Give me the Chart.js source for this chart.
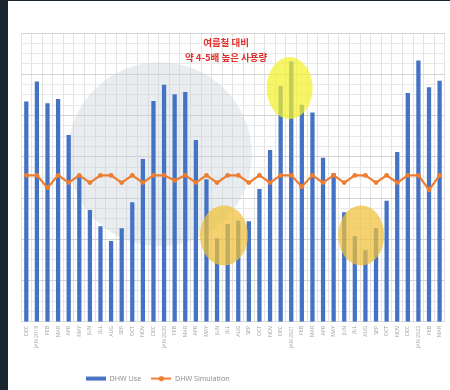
<!DOCTYPE html>
<html><head><meta charset="utf-8">
<script src="https://cdn.jsdelivr.net/npm/chart.js@4/dist/chart.umd.min.js"></script>
<style>
html,body{margin:0;padding:0;background:#1b2730;width:450px;height:390px;overflow:hidden;}
#wrap{position:absolute;left:8px;top:1px;width:442px;height:389px;background:#ffffff;}
canvas{display:block;}
</style></head><body>
<div id="wrap"><canvas id="c" width="442" height="389"></canvas></div>
<script>
const categories = ['DEC','JAN 2019','FEB','MAR','APR','MAY','JUN','JUL','AUG','SEP','OCT','NOV',
  'DEC','JAN 2020','FEB','MAR','APR','MAY','JUN','JUL','AUG','SEP','OCT','NOV',
  'DEC','JAN 2021','FEB','MAR','APR','MAY','JUN','JUL','AUG','SEP','OCT','NOV',
  'DEC','JAN 2022','FEB','MAR'];
const dhwUse = [106.6,116.3,105.8,107.9,90.4,71.0,54.0,46.2,39.0,45.2,57.8,78.8,
  106.9,114.7,110.2,111.2,88.0,69.0,40.3,47.2,48.8,48.6,64.2,83.1,
  114.2,126.0,105.0,101.3,79.4,71.9,53.0,41.3,34.5,45.2,58.5,82.2,
  110.7,126.5,113.6,116.7];
const dhwSimulation = [71,71,65,71,67.5,71,67.5,71,71,67.5,71,67.5,
  71,71,68.5,71,67.5,71,67.5,71,71,67.5,71,67.5,
  71,71,65.5,71,67.5,71,67.5,71,71,67.5,71,67.5,
  71,71,64,71];
const seriesNames = ['DHW Use','DHW Simulation'];
const noteLines = ['여름철 대비','약 4-5배 높은 사용량'];

const BLUE = '#4472c4', ORANGE = '#ed7d31';

// highlight ellipses anchored on category index / value
const highlights = [
  {i: 24.85, v: 113.3, rx: 23, ry: 31, color: 'rgba(243,240,45,0.72)'},
  {i: 18.65, v: 41.8, rx: 24, ry: 30, color: 'rgba(240,192,55,0.72)'},
  {i: 31.6, v: 41.8, rx: 23, ry: 30, color: 'rgba(240,192,55,0.72)'}
];

function legendIcon(kind){
  const cv = document.createElement('canvas');
  cv.width = 20; cv.height = 7;
  const g = cv.getContext('2d');
  if (kind === 'bar') { g.fillStyle = BLUE; g.fillRect(0,1.5,20,4); }
  else {
    g.strokeStyle = ORANGE; g.lineWidth = 2;
    g.beginPath(); g.moveTo(0,3.5); g.lineTo(20,3.5); g.stroke();
    g.fillStyle = ORANGE; g.beginPath(); g.arc(10,3.5,2.6,0,Math.PI*2); g.fill();
  }
  return cv;
}
const icons = [legendIcon('bar'), legendIcon('line')];

const decor = {
  id: 'decor',
  afterLayout(chart){
    const lg = chart.legend;
    lg.left = 78 - 10;
    lg.top = 378 - 10 - 4;
  },
  beforeDatasetsDraw(chart){
    const {ctx, scales:{x,y}} = chart;
    ctx.save();
    ctx.fillStyle = 'rgba(200,210,218,0.40)';
    ctx.beginPath();
    ctx.arc(x.getPixelForValue(12.6), y.getPixelForValue(81.2), 92, 0, Math.PI*2);
    ctx.fill();
    ctx.restore();
  },
  afterDatasetsDraw(chart){
    const {ctx, scales:{x,y}} = chart;
    ctx.save();
    highlights.forEach(h => {
      ctx.fillStyle = h.color;
      ctx.beginPath();
      ctx.ellipse(x.getPixelForValue(h.i), y.getPixelForValue(h.v), h.rx, h.ry, 0, 0, Math.PI*2);
      ctx.fill();
    });
    ctx.fillStyle = '#e0302b';
    ctx.font = 'bold 9.5px "Noto Sans CJK KR"';
    ctx.textAlign = 'center';
    ctx.textBaseline = 'middle';
    const cx = x.getPixelForValue(18.85);
    ctx.fillText(noteLines[0], cx, y.getPixelForValue(135.6));
    ctx.fillText(noteLines[1], cx, y.getPixelForValue(128.0));
    ctx.restore();
  }
};

new Chart(document.getElementById('c'), {
  data: {
    labels: categories,
    datasets: [
      {type:'bar', label: seriesNames[0], data: dhwUse, backgroundColor: BLUE,
       barThickness: 3.6, order: 2},
      {type:'line', label: seriesNames[1], data: dhwSimulation, borderColor: ORANGE,
       backgroundColor: ORANGE, borderWidth: 2.2, pointRadius: 2.4, pointHoverRadius: 2.4,
       pointBackgroundColor: ORANGE, pointBorderWidth: 0, tension: 0, order: 1}
    ]
  },
  options: {
    responsive: false, animation: false, devicePixelRatio: 1,
    layout: {padding: {left: 13, top: 32, right: 0, bottom: 0}},
    plugins: {
      tooltip: {enabled: false},
      legend: {
        position: 'bottom', align: 'start',
        labels: {
          usePointStyle: true, pointStyleWidth: 20, boxHeight: 7,
          padding: 10, color: '#8a8a8a',
          font: {family: '"Open Sans"', size: 7.2},
          generateLabels(chart){
            return chart.data.datasets.map((ds, i) => ({
              text: ds.label, pointStyle: icons[i], datasetIndex: i,
              fontColor: '#8a8a8a', lineWidth: 0, hidden: false
            }));
          }
        }
      }
    },
    scales: {
      x: {
        offset: true,
        grid: {offset: true, color: '#e3e3e3', drawTicks: false},
        border: {color: '#d9d9d9'},
        ticks: {autoSkip: false, minRotation: 90, maxRotation: 90, padding: 4,
                color: '#a0a0a0', font: {family: '"Open Sans"', size: 5.3}},
        afterFit(axis){ axis.height = 41; }
      },
      y: {
        min: 0, max: 140,
        grid: {drawTicks: false,
               color: (c) => (c.tick && c.tick.value % 20 === 0) ? '#d4d4d4' : '#e8e8e8'},
        border: {display: false},
        ticks: {display: false, stepSize: 5},
        afterFit(axis){ axis.width = 0; }
      }
    }
  },
  plugins: [decor]
});
</script>
</body></html>
